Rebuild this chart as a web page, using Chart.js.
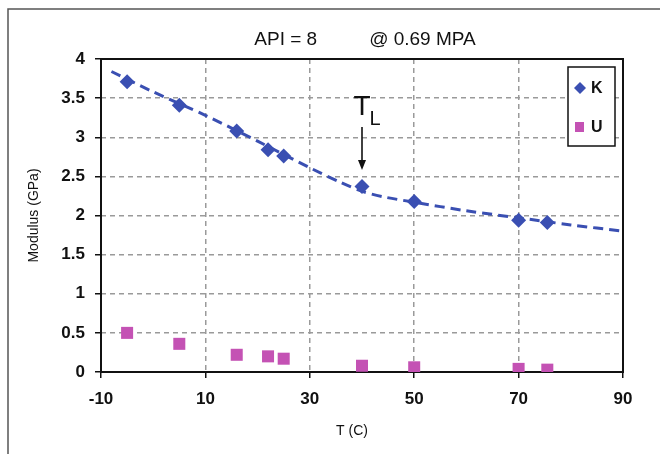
<!DOCTYPE html>
<html><head><meta charset="utf-8">
<script src="https://cdn.jsdelivr.net/npm/chart.js@4.4.1/dist/chart.umd.min.js"></script>
<style>html,body{margin:0;padding:0;background:#fff}#wrap{width:660px;height:454px;position:relative}</style>
</head><body><div id="wrap"><canvas id="c" width="660" height="454"></canvas></div>
<script>
// ---- data ----
const tempK = [-5, 5, 16, 22, 25, 40, 50, 70, 75.5];
const modulusK = [3.71, 3.41, 3.08, 2.84, 2.76, 2.37, 2.18, 1.94, 1.91];
const tempU = [-5, 5, 16, 22, 25, 40, 50, 70, 75.5];
const modulusU = [0.50, 0.36, 0.22, 0.20, 0.17, 0.08, 0.06, 0.04, 0.03];
const trendT = [-8, 0, 10, 20, 30, 36, 40, 44, 50, 60, 70, 80, 90];
const trendK = [3.84, 3.58, 3.28, 2.95, 2.61, 2.42, 2.31, 2.24, 2.17, 2.06, 1.97, 1.88, 1.80];
const xTicks = [-10, 10, 30, 50, 70, 90];
const yTicks = [0, 0.5, 1, 1.5, 2, 2.5, 3, 3.5, 4];
const seriesNames = ['K', 'U'];
const titleLeft = 'API = 8';
const titleRight = '@ 0.69 MPA';
const xTitle = 'T (C)';
const yTitle = 'Modulus (GPa)';
const tlLabel = ['T', 'L'];
const tlX = 40, tlTextY = 3.28, tlArrowTop = 3.13, tlArrowTip = 2.58;

const BLUE = '#3a4fb2';
const PINK = '#c452b4';
const FONT = '"Liberation Sans", Arial, sans-serif';

const pts = (xs, ys) => xs.map((x, i) => ({x, y: ys[i]}));

const deco = {
  id: 'deco',
  beforeDraw(chart) {
    const ctx = chart.ctx;
    ctx.save();
    ctx.fillStyle = '#fff';
    ctx.fillRect(0, 0, chart.width, chart.height);
    ctx.strokeStyle = '#555';
    ctx.lineWidth = 1.5;
    ctx.beginPath();
    ctx.moveTo(8, chart.height + 5);
    ctx.lineTo(8, 9);
    ctx.lineTo(chart.width + 5, 9);
    ctx.stroke();
    ctx.restore();
  },
  beforeDatasetsDraw(chart) {
    const {ctx, chartArea: a} = chart;
    ctx.save();
    ctx.strokeStyle = '#111';
    ctx.lineWidth = 2;
    ctx.strokeRect(a.left, a.top, a.right - a.left, a.bottom - a.top);
    ctx.restore();
  },
  afterDraw(chart) {
    const {ctx, chartArea: a, scales} = chart;
    const xs = scales.x, ys = scales.y;
    ctx.save();
    // title
    ctx.fillStyle = '#111';
    ctx.font = '19px ' + FONT;
    ctx.textBaseline = 'middle';
    ctx.textAlign = 'left';
    const cx = (a.left + a.right) / 2 + 3;
    const gap = 52;
    const w1 = ctx.measureText(titleLeft).width;
    const w2 = ctx.measureText(titleRight).width;
    const start = cx - (w1 + gap + w2) / 2;
    ctx.fillText(titleLeft, start, 40);
    ctx.fillText(titleRight, start + w1 + gap, 40);

    // x axis title
    ctx.font = '14px ' + FONT;
    ctx.textAlign = 'center';
    ctx.fillText(xTitle, (a.left + a.right) / 2 - 10, 431);

    // T_L annotation
    const px = xs.getPixelForValue(tlX);
    ctx.font = '28px ' + FONT;
    ctx.textBaseline = 'alphabetic';
    ctx.textAlign = 'center';
    const ty = ys.getPixelForValue(tlTextY);
    ctx.fillText(tlLabel[0], px, ty);
    const tw = ctx.measureText(tlLabel[0]).width;
    ctx.font = '20px ' + FONT;
    ctx.textAlign = 'left';
    ctx.fillText(tlLabel[1], px + tw / 2 - 1, ty + 10);
    const y1 = ys.getPixelForValue(tlArrowTop), y2 = ys.getPixelForValue(tlArrowTip);
    ctx.strokeStyle = '#111';
    ctx.lineWidth = 1.6;
    ctx.beginPath();
    ctx.moveTo(px, y1);
    ctx.lineTo(px, y2 - 6);
    ctx.stroke();
    ctx.beginPath();
    ctx.moveTo(px, y2);
    ctx.lineTo(px - 4, y2 - 10);
    ctx.lineTo(px + 4, y2 - 10);
    ctx.closePath();
    ctx.fillStyle = '#111';
    ctx.fill();

    // legend
    const lx = 568, ly = 67, lw = 47, lh = 79;
    ctx.fillStyle = '#fff';
    ctx.fillRect(lx, ly, lw, lh);
    ctx.strokeStyle = '#111';
    ctx.lineWidth = 1.5;
    ctx.strokeRect(lx, ly, lw, lh);
    ctx.fillStyle = BLUE;
    ctx.beginPath();
    ctx.moveTo(580, 82); ctx.lineTo(586, 88); ctx.lineTo(580, 94); ctx.lineTo(574, 88);
    ctx.closePath(); ctx.fill();
    ctx.fillStyle = PINK;
    ctx.fillRect(575, 122, 9, 10);
    ctx.fillStyle = '#111';
    ctx.font = 'bold 16px ' + FONT;
    ctx.textBaseline = 'middle';
    ctx.textAlign = 'left';
    ctx.fillText(seriesNames[0], 591, 89);
    ctx.fillText(seriesNames[1], 591, 128);
    ctx.restore();
  }
};

const tickFont = {family: FONT, size: 17, weight: 'bold'};

new Chart(document.getElementById('c'), {
  type: 'scatter',
  data: {
    datasets: [
      {label: seriesNames[0], data: pts(tempK, modulusK), pointStyle: 'rectRot', pointRadius: 7.5,
       backgroundColor: BLUE, borderColor: BLUE, borderWidth: 0, order: 1},
      {label: seriesNames[1], data: pts(tempU, modulusU), pointStyle: 'rect', pointRadius: 8.5,
       backgroundColor: PINK, borderColor: PINK, borderWidth: 0, order: 2},
      {label: 'trend', data: pts(trendT, trendK), showLine: true, pointRadius: 0, borderColor: BLUE,
       borderWidth: 3, borderDash: [10, 6], tension: 0.3, fill: false, order: 3}
    ]
  },
  options: {
    responsive: false,
    animation: false,
    devicePixelRatio: 1,
    layout: {padding: {top: 59, right: 37, left: 0, bottom: 0}},
    plugins: {legend: {display: false}, tooltip: {enabled: false}, title: {display: false}},
    scales: {
      x: {
        type: 'linear', min: -10, max: 90,
        afterBuildTicks: s => { s.ticks = xTicks.map(v => ({value: v})); },
        afterFit: s => { s.height = 82; },
        ticks: {font: tickFont, color: '#111', padding: 11, maxRotation: 0, callback: v => String(v)},
        grid: {color: '#9a9a9a', lineWidth: 1.5, tickLength: 6, tickColor: '#111', tickWidth: 1.5, tickBorderDash: []},
        border: {display: false, dash: [5, 4]},
        title: {display: false}
      },
      y: {
        type: 'linear', min: 0, max: 4,
        afterBuildTicks: s => { s.ticks = yTicks.map(v => ({value: v})); },
        afterFit: s => { s.width = 101; },
        ticks: {font: tickFont, color: '#111', padding: 10, callback: v => String(v)},
        grid: {color: '#9a9a9a', lineWidth: 1.5, tickLength: 6, tickColor: '#111', tickWidth: 1.5, tickBorderDash: []},
        border: {display: false, dash: [5, 4]},
        title: {display: true, text: yTitle, font: {family: FONT, size: 14}, color: '#111', padding: {top: 26, bottom: 0}}
      }
    }
  },
  plugins: [deco]
});
</script>
</body></html>
